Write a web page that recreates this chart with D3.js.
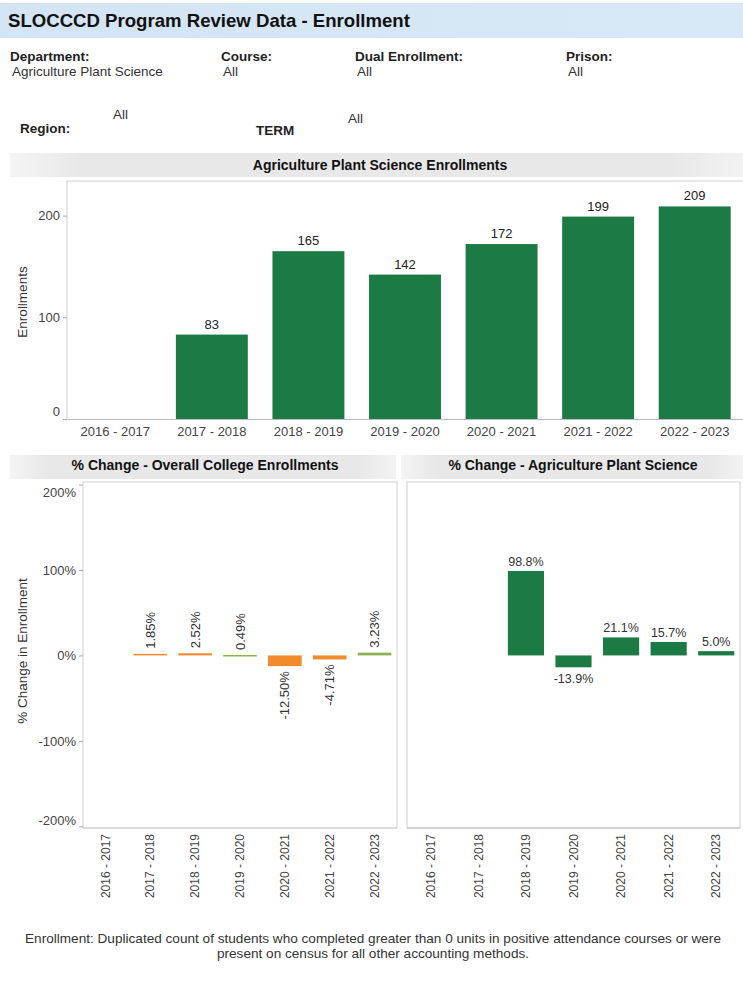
<!DOCTYPE html>
<html>
<head>
<meta charset="utf-8">
<script src="https://cdn.jsdelivr.net/npm/d3@7"></script>
<style>
  html, body { margin: 0; padding: 0; background: #fff; }
  svg { display: block; font-family: "Liberation Sans", Arial, sans-serif; }
</style>
</head>
<body>
<svg id="chart" width="743" height="982"></svg>
<script>
// ---------------- DATA ----------------
const pageTitle = "SLOCCCD Program Review Data - Enrollment";
const filterLabels = ["Department:", "Course:", "Dual Enrollment:", "Prison:"];
const filterValues = ["Agriculture Plant Science", "All", "All", "All"];
const categories = ["2016 - 2017", "2017 - 2018", "2018 - 2019", "2019 - 2020", "2020 - 2021", "2021 - 2022", "2022 - 2023"];
const enrollments = [null, 83, 165, 142, 172, 199, 209];
const enrollTicks = [0, 100, 200];
const collegeChange = [null, 1.85, 2.52, 0.49, -12.50, -4.71, 3.23];
const collegeGroup = [null, "a", "a", "b", "a", "a", "b"];
const deptChange = [null, null, 98.8, -13.9, 21.1, 15.7, 5.0];
const pctTicks = [-200, -100, 0, 100, 200];
const topTitle = "Agriculture Plant Science Enrollments";
const leftTitle = "% Change - Overall College Enrollments";
const rightTitle = "% Change - Agriculture Plant Science";
const footer = ["Enrollment: Duplicated count of students who completed greater than 0 units in positive attendance courses or were",
                "present on census for all other accounting methods."];

// ---------------- SETUP ----------------
const svg = d3.select("#chart");
const GREEN = "#1c7a45";
const frameColor = "#cfcfcf";
const tickText = "#444";
const hyph = s => s.replace("\u2212", "-");
const defs = svg.append("defs");

const hg = defs.append("linearGradient").attr("id", "hdr").attr("x1", 0).attr("x2", 1);
hg.append("stop").attr("offset", "0%").attr("stop-color", "#d3e4f4");
hg.append("stop").attr("offset", "100%").attr("stop-color", "#d9e8f6");
const gg = defs.append("linearGradient").attr("id", "band").attr("x1", 0).attr("x2", 1);
gg.append("stop").attr("offset", "0%").attr("stop-color", "#f4f4f4");
gg.append("stop").attr("offset", "10%").attr("stop-color", "#e8e8e8");
gg.append("stop").attr("offset", "90%").attr("stop-color", "#e8e8e8");
gg.append("stop").attr("offset", "100%").attr("stop-color", "#f2f2f2");

// Header
svg.append("rect").attr("x", 0).attr("y", 3).attr("width", 743).attr("height", 35).attr("fill", "url(#hdr)");
svg.append("text").attr("x", 8).attr("y", 27).attr("font-size", 18.6).attr("font-weight", "bold").attr("fill", "#111").text(pageTitle);

const filterX = [10, 221, 355, 566];
filterLabels.forEach((l, i) => {
  svg.append("text").attr("x", filterX[i]).attr("y", 61).attr("font-size", 13.5).attr("font-weight", "bold").attr("fill", "#222").text(l);
  svg.append("text").attr("x", filterX[i] + 2).attr("y", 76).attr("font-size", 13.5).attr("fill", "#333").text(filterValues[i]);
});
svg.append("text").attr("x", 20).attr("y", 133).attr("font-size", 13.5).attr("font-weight", "bold").attr("fill", "#222").text("Region:");
svg.append("text").attr("x", 113).attr("y", 119).attr("font-size", 13.5).attr("fill", "#333").text("All");
svg.append("text").attr("x", 256).attr("y", 135).attr("font-size", 13.5).attr("font-weight", "bold").attr("fill", "#222").text("TERM");
svg.append("text").attr("x", 348).attr("y", 123).attr("font-size", 13.5).attr("fill", "#333").text("All");

function band(x, w, y, h) {
  svg.append("rect").attr("x", x).attr("y", y).attr("width", w).attr("height", h).attr("fill", "url(#band)");
}

// ---------------- TOP CHART ----------------
band(10, 733, 153, 24);
svg.append("text").attr("x", 380).attr("y", 170).attr("text-anchor", "middle").attr("font-size", 14).attr("font-weight", "bold").attr("fill", "#111").text(topTitle);

const tL = 67, tR = 743, tT = 181, tB = 419;
const xTop = d3.scaleBand().domain(categories).range([tL, tR]).paddingInner(0.255).paddingOuter(0.1275);
const yTop = d3.scaleLinear().domain([0, 234]).range([tB, tT]);

const topG = svg.append("g");
topG.append("line").attr("x1", tL).attr("x2", tR).attr("y1", tT).attr("y2", tT).attr("stroke", frameColor);
topG.append("line").attr("x1", tL).attr("x2", tL).attr("y1", tT).attr("y2", tB).attr("stroke", frameColor);

const topData = categories.map((c, i) => ({ c, v: enrollments[i] })).filter(d => d.v != null);
topG.selectAll("rect.bar").data(topData).enter().append("rect").attr("class", "bar")
  .attr("x", d => xTop(d.c)).attr("width", xTop.bandwidth())
  .attr("y", d => yTop(d.v)).attr("height", d => yTop(0) - yTop(d.v)).attr("fill", GREEN);
topG.selectAll("text.val").data(topData).enter().append("text").attr("class", "val")
  .attr("x", d => xTop(d.c) + xTop.bandwidth() / 2).attr("y", d => yTop(d.v) - 6)
  .attr("text-anchor", "middle").attr("font-size", 13).attr("fill", "#222").text(d => d3.format("d")(d.v));

const yAxTop = topG.append("g").attr("transform", `translate(${tL},0)`)
  .call(d3.axisLeft(yTop).tickValues(enrollTicks).tickSize(4).tickPadding(3));
yAxTop.select(".domain").remove();
yAxTop.selectAll("line").attr("stroke", "#aaa");
yAxTop.selectAll("text").attr("font-size", 13).attr("fill", tickText).attr("font-family", null)
  .attr("dy", d => d === 0 ? "-0.3em" : "0.32em");

const xAxTop = topG.append("g").attr("transform", `translate(0,${tB})`)
  .call(d3.axisBottom(xTop).tickSize(0).tickPadding(8));
xAxTop.select(".domain").attr("stroke", "#bbb");
xAxTop.selectAll("text").attr("font-size", 13).attr("fill", tickText).attr("font-family", null);

svg.append("text").attr("transform", `translate(27,${(tT + tB) / 2 + 2}) rotate(-90)`)
  .attr("text-anchor", "middle").attr("font-size", 13.5).attr("fill", "#333").text("Enrollments");

// ---------------- BOTTOM CHARTS ----------------
const bT = 482, bB = 828;
const yPct = d3.scaleLinear().domain([-202, 203]).range([bB, bT]);
const collegeColor = d3.scaleOrdinal().domain(["a", "b"]).range(["#f28a2e", "#8fb155"]);

function pctChart(x0, x1, values, opts) {
  const g = svg.append("g");
  const x = d3.scaleBand().domain(categories).range([x0, x1]).paddingInner(opts.pad).paddingOuter(opts.pad / 2);
  if (opts.fullFrame) {
    g.append("rect").attr("x", x0).attr("y", bT).attr("width", x1 - x0).attr("height", bB - bT)
      .attr("fill", "none").attr("stroke", frameColor);
  } else {
    g.append("path").attr("d", `M${x0},${bB}V${bT}H${x1}V${bB}`).attr("fill", "none").attr("stroke", frameColor);
  }
  g.append("line").attr("x1", x0).attr("x2", x1).attr("y1", bB).attr("y2", bB).attr("stroke", "#bbb");
  const data = categories.map((c, i) => ({ c, v: values[i], i })).filter(d => d.v != null);
  g.selectAll("rect.bar").data(data).enter().append("rect")
    .attr("x", d => x(d.c)).attr("width", x.bandwidth())
    .attr("y", d => yPct(Math.max(0, d.v)))
    .attr("height", d => Math.max(1.5, Math.abs(yPct(d.v) - yPct(0))))
    .attr("fill", d => opts.color(d));
  if (opts.rotatedLabels) {
    g.selectAll("text.val").data(data).enter().append("text")
      .attr("transform", d => `translate(${x(d.c) + x.bandwidth() / 2},${d.v >= 0 ? yPct(d.v) - 5 : yPct(d.v) + 5}) rotate(-90)`)
      .attr("dy", "0.35em").attr("text-anchor", d => d.v >= 0 ? "start" : "end")
      .attr("font-size", 13).attr("fill", "#333").text(d => hyph(d3.format(".2f")(d.v)) + "%");
  } else {
    g.selectAll("text.val").data(data).enter().append("text")
      .attr("x", d => x(d.c) + x.bandwidth() / 2)
      .attr("y", d => d.v >= 0 ? yPct(d.v) - 5 : yPct(d.v) + 16)
      .attr("text-anchor", "middle").attr("font-size", 12.5).attr("fill", "#333").text(d => hyph(d3.format(".1f")(d.v)) + "%");
  }
  const xa = g.append("g").attr("transform", `translate(0,${bB})`)
    .call(d3.axisBottom(x).tickSize(0).tickPadding(0));
  xa.select(".domain").remove();
  xa.selectAll("text").attr("font-size", 12).attr("fill", tickText).attr("font-family", null)
    .attr("text-anchor", "end").attr("transform", "translate(0,6) rotate(-90)").attr("dy", "0.35em").attr("y", 0);
  return g;
}

band(10, 386, 455, 24);
svg.append("text").attr("x", 205).attr("y", 470).attr("text-anchor", "middle").attr("font-size", 14).attr("font-weight", "bold").attr("fill", "#111").text(leftTitle);
band(401, 342, 455, 24);
svg.append("text").attr("x", 573).attr("y", 470).attr("text-anchor", "middle").attr("font-size", 14).attr("font-weight", "bold").attr("fill", "#111").text(rightTitle);

pctChart(83, 397, collegeChange, { pad: 0.25, rotatedLabels: true, color: d => collegeColor(collegeGroup[d.i]) });
pctChart(407, 740, deptChange, { pad: 0.24, rotatedLabels: false, fullFrame: true, color: () => GREEN });

const yAxL = svg.append("g").attr("transform", "translate(83,0)")
  .call(d3.axisLeft(yPct).tickValues(pctTicks).tickSize(4).tickPadding(3).tickFormat(d => hyph(d3.format("d")(d)) + "%"));
yAxL.select(".domain").remove();
yAxL.selectAll("line").attr("stroke", "#aaa");
yAxL.selectAll("text").attr("font-size", 13).attr("fill", tickText).attr("font-family", null)
  .attr("dy", d => d === 200 ? "0.9em" : d === -200 ? "-0.1em" : "0.32em");

svg.append("text").attr("transform", `translate(27,651) rotate(-90)`)
  .attr("text-anchor", "middle").attr("font-size", 13.5).attr("fill", "#333").text("% Change in Enrollment");

// ---------------- FOOTER ----------------
footer.forEach((t, i) => {
  svg.append("text").attr("x", 373).attr("y", 943 + i * 15).attr("text-anchor", "middle")
    .attr("font-size", 13.6).attr("fill", "#333").text(t);
});
</script>
</body>
</html>
